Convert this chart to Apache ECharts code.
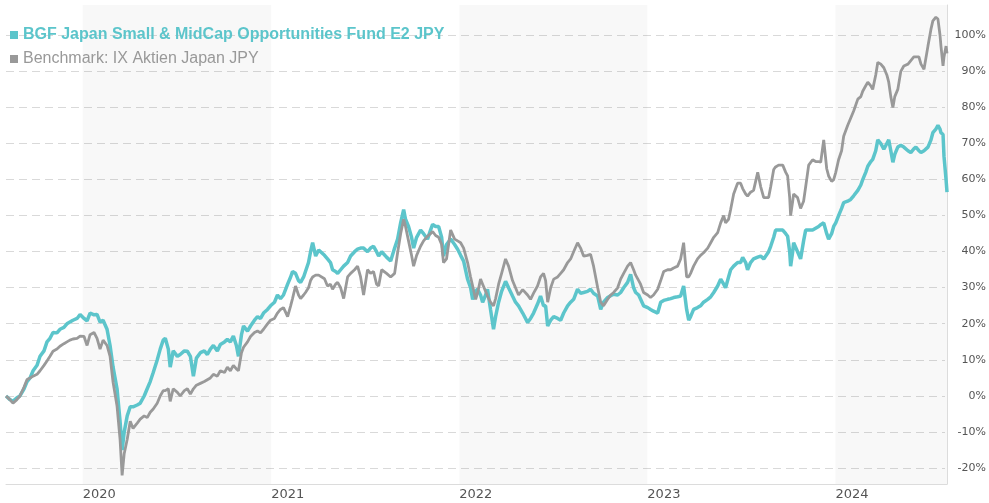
<!DOCTYPE html>
<html>
<head>
<meta charset="utf-8">
<script src="https://cdn.jsdelivr.net/npm/echarts@6/dist/echarts.min.js"></script>
<style>
  html, body { margin: 0; padding: 0; background: #fff; }
  #chart { width: 989px; height: 503px; }
</style>
</head>
<body>
<div id="chart"></div>
<script>
// dates as decimal years
var years = [
  2019.592, 2019.613, 2019.629, 2019.650, 2019.666, 2019.688, 2019.704, 2019.720, 2019.736, 2019.757,
  2019.773, 2019.794, 2019.810, 2019.826, 2019.842, 2019.863, 2019.879, 2019.900, 2019.916, 2019.932,
  2019.948, 2019.970, 2019.986, 2020.007, 2020.023, 2020.039, 2020.060, 2020.076, 2020.092, 2020.108,
  2020.129, 2020.145, 2020.161, 2020.182, 2020.198, 2020.209, 2020.220, 2020.236, 2020.252, 2020.267,
  2020.289, 2020.305, 2020.326, 2020.342, 2020.358, 2020.374, 2020.395, 2020.411, 2020.427, 2020.438,
  2020.454, 2020.464, 2020.480, 2020.502, 2020.517, 2020.539, 2020.555, 2020.571, 2020.587, 2020.603,
  2020.624, 2020.645, 2020.661, 2020.677, 2020.693, 2020.714, 2020.730, 2020.752, 2020.767, 2020.783,
  2020.799, 2020.815, 2020.826, 2020.842, 2020.853, 2020.874, 2020.890, 2020.911, 2020.927, 2020.943,
  2020.959, 2020.980, 2020.996, 2021.017, 2021.033, 2021.049, 2021.065, 2021.087, 2021.103, 2021.113,
  2021.129, 2021.145, 2021.156, 2021.172, 2021.182, 2021.198, 2021.209, 2021.220, 2021.236, 2021.252,
  2021.262, 2021.283, 2021.299, 2021.315, 2021.326, 2021.342, 2021.353, 2021.369, 2021.385, 2021.406,
  2021.422, 2021.443, 2021.459, 2021.475, 2021.491, 2021.512, 2021.528, 2021.544, 2021.560, 2021.571,
  2021.587, 2021.597, 2021.613, 2021.635, 2021.656, 2021.672, 2021.688, 2021.704, 2021.714, 2021.730,
  2021.746, 2021.757, 2021.773, 2021.794, 2021.810, 2021.831, 2021.847, 2021.858, 2021.874, 2021.890,
  2021.906, 2021.916, 2021.932, 2021.954, 2021.975, 2021.991, 2022.007, 2022.023, 2022.044, 2022.060,
  2022.071, 2022.087, 2022.097, 2022.113, 2022.124, 2022.140, 2022.150, 2022.166, 2022.182, 2022.193,
  2022.209, 2022.225, 2022.246, 2022.262, 2022.283, 2022.299, 2022.315, 2022.337, 2022.363, 2022.379,
  2022.395, 2022.416, 2022.432, 2022.448, 2022.459, 2022.470, 2022.486, 2022.502, 2022.523, 2022.539,
  2022.555, 2022.576, 2022.592, 2022.608, 2022.629, 2022.645, 2022.661, 2022.682, 2022.698, 2022.714,
  2022.736, 2022.752, 2022.767, 2022.789, 2022.805, 2022.821, 2022.842, 2022.858, 2022.874, 2022.895,
  2022.911, 2022.927, 2022.938, 2022.954, 2022.964, 2022.980, 2023.002, 2023.017, 2023.033, 2023.055,
  2023.071, 2023.087, 2023.108, 2023.124, 2023.140, 2023.161, 2023.177, 2023.193, 2023.209, 2023.220,
  2023.230, 2023.246, 2023.267, 2023.283, 2023.299, 2023.321, 2023.337, 2023.353, 2023.374, 2023.390,
  2023.406, 2023.416, 2023.432, 2023.443, 2023.459, 2023.480, 2023.496, 2023.507, 2023.523, 2023.533,
  2023.549, 2023.565, 2023.587, 2023.603, 2023.619, 2023.629, 2023.645, 2023.656, 2023.672, 2023.682,
  2023.698, 2023.720, 2023.736, 2023.746, 2023.757, 2023.762, 2023.773, 2023.778, 2023.799, 2023.815,
  2023.831, 2023.842, 2023.858, 2023.879, 2023.895, 2023.911, 2023.922, 2023.938, 2023.954, 2023.964,
  2023.980, 2023.991, 2024.002, 2024.017, 2024.033, 2024.044, 2024.065, 2024.081, 2024.097, 2024.119,
  2024.135, 2024.145, 2024.161, 2024.172, 2024.188, 2024.198, 2024.214, 2024.225, 2024.241, 2024.257,
  2024.273, 2024.283, 2024.294, 2024.305, 2024.315, 2024.331, 2024.347, 2024.363, 2024.385, 2024.400,
  2024.416, 2024.427, 2024.443, 2024.454, 2024.470, 2024.491, 2024.507, 2024.517, 2024.533, 2024.544,
  2024.555, 2024.560, 2024.571, 2024.576, 2024.587, 2024.592
];

// cumulative performance in %
var fundValues = [
  0, -1, -1.5, -0.5, 0, 2, 4, 5, 7, 8.5,
  11, 12.5, 15, 16, 17.6, 17.5, 18.5, 19, 20, 20.5,
  21, 21.5, 22.6, 21.5, 20.8, 23, 22.5, 22.6, 20.5, 21,
  18.5, 14, 8, 2, -7, -15, -10, -5.5, -3, -3,
  -2.5, -2, 0, 2, 4, 6.5, 10, 13, 15.5, 16,
  13, 8, 12.5, 11, 11.5, 12.5, 12.4, 11, 5.5, 10.5,
  12, 12.5, 11.5, 13, 14, 12.5, 14.3, 15, 15.7, 15,
  16.6, 14, 11, 17, 19.4, 18, 19.4, 21, 22, 21.5,
  23, 24, 25, 26, 28, 27, 28, 31, 33, 34.5,
  34, 32, 31.5, 33, 33, 37, 40, 42.5, 38.8, 40.5,
  40, 39, 38, 37, 35, 34.5, 34, 35, 36, 37,
  38.8, 40, 40.7, 41, 41, 40, 41, 41.5, 40, 38.8,
  40, 40, 38.5, 37.4, 41, 43.5, 48, 51.7, 49, 47,
  44, 41, 44, 46, 45, 43.5, 46, 47.6, 47, 47,
  44, 38.8, 42, 43.5, 42, 40.7, 39, 37.4, 32.4, 30,
  26.8, 29, 29.6, 28, 26, 28, 29.6, 24, 18.5, 22,
  26, 29, 31.8, 30, 27.7, 26, 25, 23, 20.4, 21.5,
  23, 25.5, 27.7, 25, 25, 19.4, 21, 22, 21.5, 21,
  23, 25, 26, 26.8, 29.6, 28.5, 28.7, 29, 29.6, 28.5,
  27.7, 24, 26, 27.3, 27.8, 28.2, 28, 28.7, 30, 31.5,
  33.7, 30, 28.7, 28, 27.7, 25, 24.5, 24, 23.5, 23,
  26, 26.5, 26.8, 27, 27.3, 27.5, 27.7, 30.5, 24, 21,
  22, 24, 24.5, 25, 26, 26.8, 27.5, 28.7, 30.5, 32.4,
  31, 30, 33, 35, 36, 37, 37, 38.4, 37, 35,
  37, 38, 38.5, 38.8, 38, 38, 40, 41.5, 44, 46,
  46, 46, 45, 44.3, 40, 36, 40, 42.5, 40, 38,
  43, 46, 46, 46, 46.5, 47, 47.5, 48, 45, 43.5,
  45, 47, 48, 50, 52, 53.6, 54, 54.5, 55.5, 57,
  58.5, 60, 62, 63.7, 65, 65.6, 68, 71, 70, 68.4,
  70, 71, 68, 64.8, 67, 69, 69.5, 69, 68, 67.5,
  68.5, 69, 68, 67.5, 68, 69, 71, 73, 74, 75,
  74, 73, 72.5, 66.5, 60, 56.5
];

var benchValues = [
  0, -1, -2, -1, 0, 2.5, 4.6, 5, 5.5, 6,
  7, 8.5, 9.7, 11, 12.4, 13, 13.8, 14.5, 15, 15.5,
  15.8, 16, 16.6, 16.5, 14, 17, 17.6, 16, 13, 15.5,
  14, 11, 3.8, -2.8, -12, -22, -16, -12, -7, -9,
  -7.5, -6.4, -5.5, -6, -4.5, -3.6, -2, 0, 1.5, 1.5,
  2, -1.5, 2, 1, 0, 1.5, 2, 0.5, 2, 3,
  3.5, 4, 4.5, 5, 6, 5.5, 7, 6.5, 8, 7,
  8.5, 7.5, 7, 12, 13.5, 15, 16.5, 17.6, 18, 17.5,
  18.5, 20, 21, 21.5, 23, 24, 24.5, 22, 25, 27,
  30.5, 28, 27, 28, 28.7, 30, 32, 33, 33.5, 33.5,
  34, 32.5, 30.5, 31, 29.6, 31, 31.5, 30, 27, 33,
  34, 35, 36, 33, 28, 35, 34, 34.5, 31, 30.5,
  35, 34.5, 34, 33, 34, 39.8, 45, 49, 47, 43,
  39, 36, 39, 41.5, 43, 44.3, 45, 45.6, 44.5, 44,
  42, 37, 38, 46, 43.5, 43, 42.5, 41, 37, 33,
  30.5, 26.8, 28.5, 32.4, 31, 29, 27.7, 26, 25, 27,
  31, 34, 38, 36, 32, 30, 28, 29.5, 28, 26.8,
  28.5, 30.5, 33, 34, 32, 26, 30, 32.4, 33, 34,
  35, 37, 38, 40, 42.5, 41, 38.8, 39, 39.3, 36,
  30, 26, 25, 26.8, 28, 28.7, 30, 32.4, 34, 36,
  37, 35, 33.5, 32, 31, 28.7, 28, 27.3, 28, 29.6,
  32, 34.5, 35, 35, 35.5, 36, 38, 42.5, 33, 33,
  34, 36, 38, 39, 39.7, 41, 42.5, 44, 45.3, 48,
  50, 48, 49, 51.7, 56, 59, 59, 57.5, 56, 55.4,
  56.5, 57, 62, 58, 55, 54.5, 55, 58, 62.8, 63.5,
  64, 64, 62, 61, 55, 50, 54, 56, 55, 52,
  54, 58, 64, 65.5, 65, 65, 64.8, 71, 63, 61,
  59.5, 60, 62, 65.5, 68, 72, 75, 77, 79, 82.3,
  83, 84.5, 86, 87, 86, 85, 89, 92.5, 92, 91,
  89, 87, 83, 80, 83, 85, 90, 91.5, 92, 93,
  94, 94, 94, 92, 90.6, 97, 101.7, 104, 105, 104.5,
  100, 97, 91.5, 94, 97, 95
];

var fundName = 'BGF Japan Small & MidCap Opportunities Fund E2 JPY';
var benchName = 'Benchmark: IX Aktien Japan JPY';
var shadedYears = [2020, 2022, 2024];

var fundColor = '#5cc5cb';
var benchColor = '#999999';

function toTime(t) {
  var y = Math.floor(t);
  var a = Date.UTC(y, 0, 1), b = Date.UTC(y + 1, 0, 1);
  return a + (t - y) * (b - a);
}

var xMin = toTime(years[0]);
var xMax = toTime(years[years.length - 1]);

var fundData = years.map(function (t, i) { return [toTime(t), fundValues[i]]; });
var benchData = years.map(function (t, i) { return [toTime(t), benchValues[i]]; });

var bands = shadedYears.map(function (y) {
  return [{ xAxis: Date.UTC(y, 0, 1) }, { xAxis: Math.min(Date.UTC(y + 1, 0, 1), xMax) }];
});

var myChart = echarts.init(document.getElementById('chart'));

var option = {
  animation: false,
  useUTC: true,
  backgroundColor: '#fff',
  textStyle: { fontFamily: 'DejaVu Sans' },
  legend: {
    orient: 'vertical',
    left: 5,
    top: 22,
    itemWidth: 8,
    itemHeight: 8,
    itemGap: 8,
    icon: 'rect',
    selectedMode: false,
    textStyle: { fontFamily: 'Liberation Sans', fontSize: 16, lineHeight: 16 },
    data: [
      { name: fundName, textStyle: { color: fundColor, fontWeight: 'bold' } },
      { name: benchName, textStyle: { color: benchColor } }
    ]
  },
  grid: [
    { left: 6, right: 42, top: 5, bottom: 19 },
    { left: 6, right: 42, top: 35, bottom: 35 }
  ],
  xAxis: [
    {
      type: 'time',
      gridIndex: 0,
      min: xMin,
      max: xMax,
      axisLine: { onZero: false, lineStyle: { color: '#dcdcdc' } },
      axisTick: { show: false },
      splitLine: { show: false },
      axisLabel: {
        color: '#555',
        fontFamily: 'DejaVu Sans',
        fontSize: 13,
        align: 'left',
        margin: 4,
        hideOverlap: false,
        formatter: function (val) {
          var d = new Date(val);
          return (d.getUTCMonth() === 0 && d.getUTCDate() === 1) ? String(d.getUTCFullYear()) : '';
        }
      }
    },
    { type: 'value', gridIndex: 1, show: false }
  ],
  yAxis: [
    {
      type: 'value',
      gridIndex: 0,
      position: 'right',
      min: -24.4,
      max: 108.4,
      axisLine: { show: true, lineStyle: { color: '#dcdcdc' } },
      axisTick: { show: false },
      axisLabel: { show: false },
      splitLine: { show: false }
    },
    {
      type: 'value',
      gridIndex: 1,
      position: 'right',
      min: -20,
      max: 100,
      interval: 10,
      axisLine: { show: false },
      axisTick: { show: false },
      axisLabel: {
        color: '#555',
        fontFamily: 'DejaVu Sans',
        fontSize: 11,
        align: 'right',
        margin: 41,
        formatter: '{value}%'
      },
      splitLine: { lineStyle: { color: '#d9d9d9', type: [8, 5], width: 1 } }
    }
  ],
  series: [
    {
      name: fundName,
      type: 'line',
      xAxisIndex: 0,
      yAxisIndex: 0,
      data: fundData,
      showSymbol: false,
      color: fundColor,
      lineStyle: { color: fundColor, width: 3.5 },
      markArea: {
        silent: true,
        itemStyle: { color: 'rgba(0,0,0,0.028)' },
        data: bands
      }
    },
    {
      name: benchName,
      type: 'line',
      xAxisIndex: 0,
      yAxisIndex: 0,
      data: benchData,
      showSymbol: false,
      color: benchColor,
      lineStyle: { color: benchColor, width: 2.8 }
    }
  ]
};

myChart.setOption(option);
</script>
</body>
</html>
